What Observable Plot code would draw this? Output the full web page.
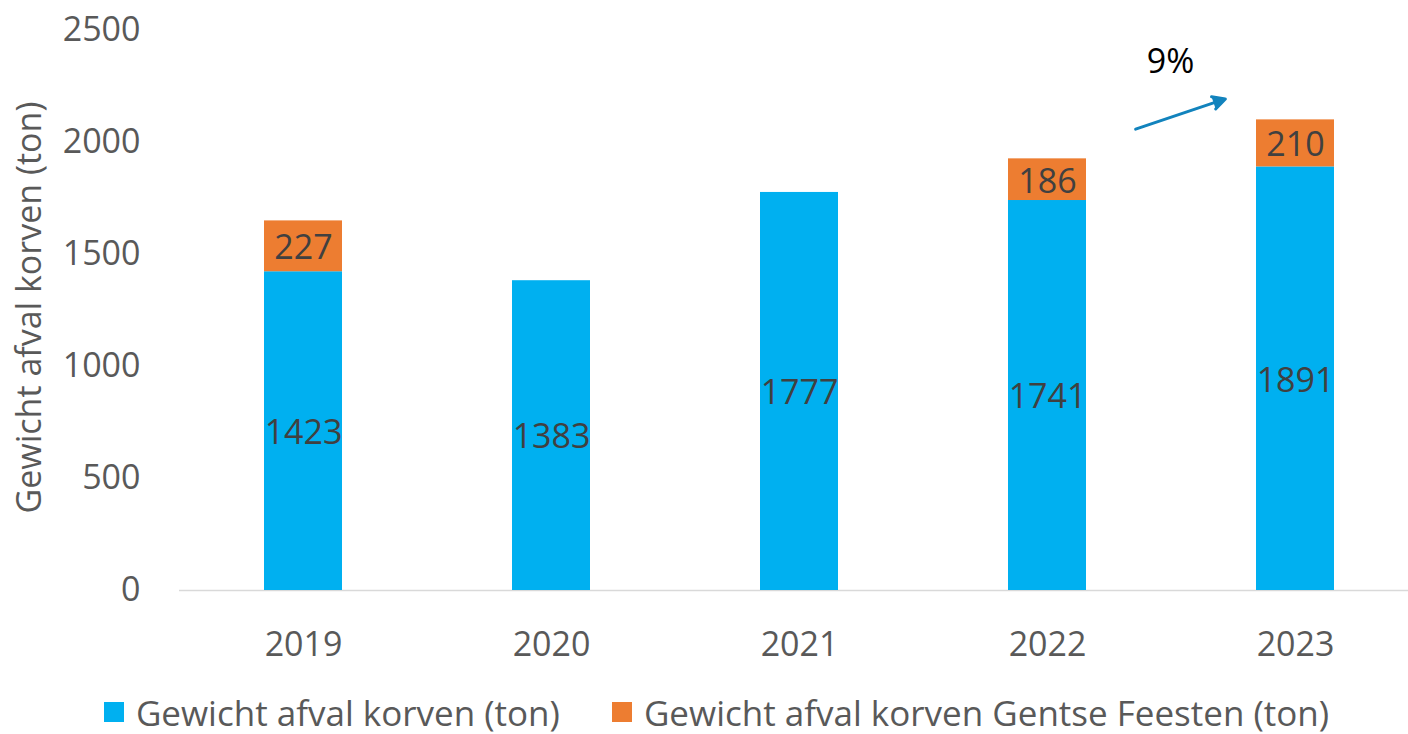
<!DOCTYPE html>
<html>
<head>
<meta charset="utf-8">
<script src="https://cdn.jsdelivr.net/npm/d3@7"></script>
<script src="https://cdn.jsdelivr.net/npm/@observablehq/plot@0.6"></script>
<style>
  html, body { margin: 0; padding: 0; background: #fff; overflow: hidden; }
  #chart { width: 1408px; height: 734px; position: relative; }
  .legend { position: absolute; left: 0; top: 690px; width: 1408px; height: 44px;
    display: flex; justify-content: center; align-items: center; gap: 52px;
    font-family: "Open Sans", sans-serif; font-size: 35px; color: #595959; padding-left: 25px; box-sizing: border-box; }
  .legend .item { display: flex; align-items: center; gap: 12px; white-space: nowrap; }
  .legend .sw { width: 20px; height: 20px; display: inline-block; }
</style>
</head>
<body>
<div id="chart"></div>
<script>
const years = ["2019", "2020", "2021", "2022", "2023"];
const seriesNames = ["Gewicht afval korven (ton)", "Gewicht afval korven Gentse Feesten (ton)"];
const korven = [1423, 1383, 1777, 1741, 1891];
const feesten = [227, null, null, 186, 210];
const colors = ["#00B0F0", "#ED7D31"];
const yTicks = [0, 500, 1000, 1500, 2000, 2500];
const growth = [{from: "2022", to: "2023", y1: 1927, y2: 2300, label: "9%"}];
const yTitle = "Gewicht afval korven (ton)";

const rows = [];
years.forEach((yr, i) => { if (korven[i] != null) rows.push({year: yr, series: seriesNames[0], value: korven[i]}); });
years.forEach((yr, i) => { if (feesten[i] != null) rows.push({year: yr, series: seriesNames[1], value: feesten[i]}); });

const font = "'Open Sans', sans-serif";

const plot = Plot.plot({
  width: 1408,
  height: 690,
  marginTop: 30,
  marginBottom: 100,
  marginLeft: 179,
  marginRight: 0,
  style: {fontFamily: font, fontSize: "34px", color: "#595959", background: "#fff"},
  x: {domain: years, range: [179, 1419], paddingInner: 0.685, paddingOuter: 0.3425, label: null},
  y: {domain: [0, 2500], label: null},
  color: {domain: seriesNames, range: colors},
  marks: [
    Plot.ruleY([0], {stroke: "#d9d9d9", strokeWidth: 1.5}),
    Plot.barY(rows, Plot.stackY({x: "year", y: "value", z: "series", fill: "series", order: null})),
    Plot.text(rows, Plot.stackY({x: "year", y: "value", z: "series", text: d => String(d.value), order: null,
      fill: "#404040", fontSize: 34, lineAnchor: "middle", dy: 2})),
    Plot.axisY({ticks: yTicks, tickSize: 0, tickPadding: 39, fontSize: 34, label: null, tickFormat: d => String(d)}),
    Plot.axisX({tickSize: 0, tickPadding: 41, fontSize: 34, label: null}),
    Plot.text([yTitle], {frameAnchor: "left", text: d => d, rotate: -90, dx: -149, dy: -3, fontSize: 34, fill: "#595959",
      textAnchor: "middle", lineAnchor: "middle"}),
    Plot.arrow(growth, {x1: "from", x2: "to", y1: "y1", y2: "y2", insetStart: 93, insetEnd: 74,
      stroke: "#1283BD", fill: "#1283BD", strokeWidth: 3, headLength: 7, headAngle: 55}),
    Plot.text(growth, {x: "to", y: "y2", text: "label", dx: -125, dy: -13, fill: "#000", fontSize: 34, lineAnchor: "middle"})
  ]
});

const chart = document.getElementById("chart");
chart.appendChild(plot);

const legend = document.createElement("div");
legend.className = "legend";
seriesNames.forEach((name, i) => {
  const item = document.createElement("span");
  item.className = "item";
  const sw = document.createElement("span");
  sw.className = "sw";
  sw.style.background = colors[i];
  const t = document.createElement("span");
  t.textContent = name;
  item.appendChild(sw);
  item.appendChild(t);
  legend.appendChild(item);
});
chart.appendChild(legend);
</script>
</body>
</html>
